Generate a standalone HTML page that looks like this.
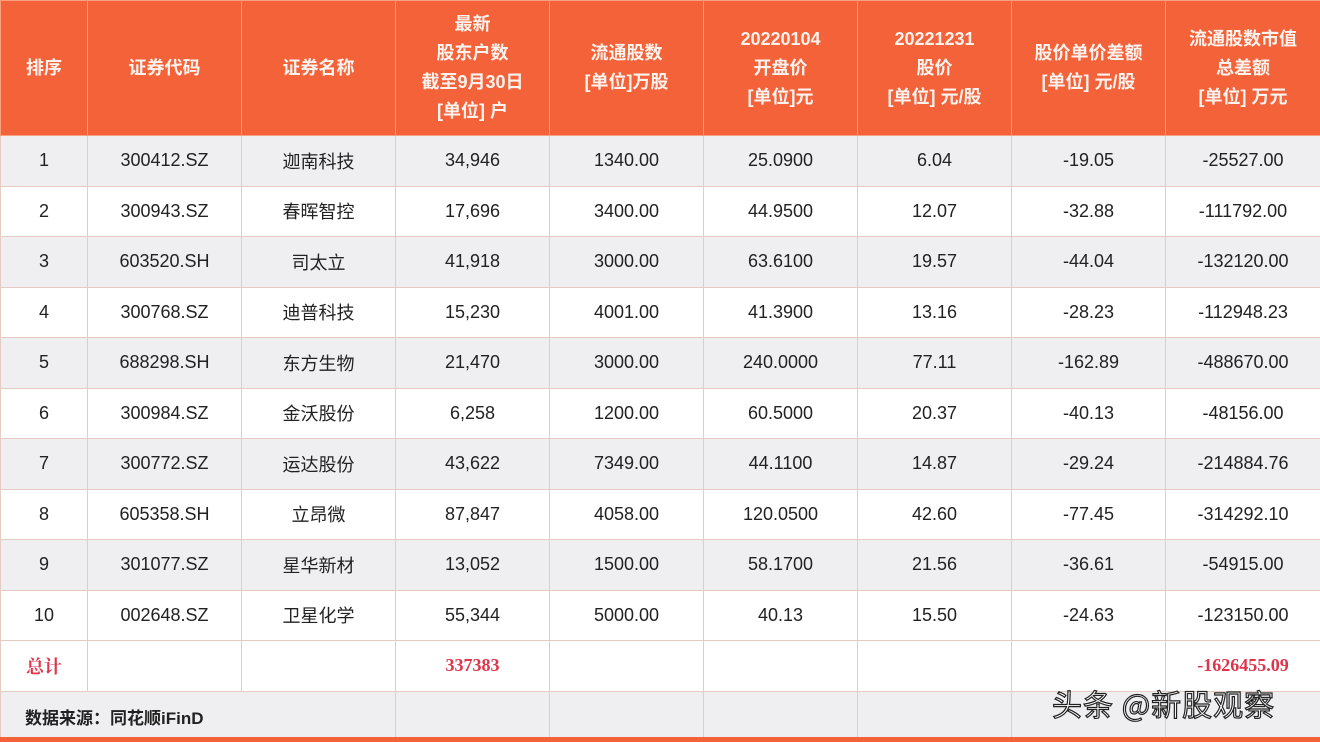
<!DOCTYPE html>
<html><head><meta charset="utf-8"><style>
body{margin:0;width:1320px;height:742px;overflow:hidden;background:#fff;font-family:"Liberation Sans","Noto Sans CJK SC",sans-serif;position:relative}
table{border-collapse:collapse;table-layout:fixed;width:1320px;position:absolute;left:0;top:0}
td,th{border:1px solid #e6cbc3;text-align:center;padding:0;font-size:18px;color:#222}
th{background:#f4623a;color:#fdf3ee;font-weight:bold;height:134px;line-height:29px;border-color:#f7a080;font-size:18px}
tr.d td{height:49.5px}
tr.g td{background:#efeff1}
.cn{font-family:"Noto Sans CJK SC",sans-serif;line-height:20px}
.red{color:#e0344a;font-family:"Liberation Serif","Noto Serif CJK SC",serif;font-weight:bold}
.src{text-align:left;padding-left:24px;font-weight:bold;font-size:17px}
.wm{position:absolute;left:1052px;top:683px;font-size:30px;line-height:40px;color:#fff;-webkit-text-stroke:1.2px #222;font-family:"Noto Sans CJK SC",sans-serif;letter-spacing:1px}
.bl{position:absolute;left:0;top:737px;width:1320px;height:5px;background:#f4623a}
</style></head><body>
<table>
<colgroup><col style="width:87px"><col style="width:154px"><col style="width:154px"><col style="width:154px"><col style="width:154px"><col style="width:154px"><col style="width:154px"><col style="width:154px"><col style="width:155px"></colgroup>
<tr><th>排序</th><th>证券代码</th><th>证券名称</th><th>最新<br>股东户数<br>截至9月30日<br>[单位] 户</th><th>流通股数<br>[单位]万股</th><th>20220104<br>开盘价<br>[单位]元</th><th>20221231<br>股价<br>[单位] 元/股</th><th>股价单价差额<br>[单位] 元/股</th><th>流通股数市值<br>总差额<br>[单位] 万元</th></tr>
<tr class="d g"><td>1</td><td>300412.SZ</td><td class="cn">迦南科技</td><td>34,946</td><td>1340.00</td><td>25.0900</td><td>6.04</td><td>-19.05</td><td>-25527.00</td></tr>
<tr class="d"><td>2</td><td>300943.SZ</td><td class="cn">春晖智控</td><td>17,696</td><td>3400.00</td><td>44.9500</td><td>12.07</td><td>-32.88</td><td>-111792.00</td></tr>
<tr class="d g"><td>3</td><td>603520.SH</td><td class="cn">司太立</td><td>41,918</td><td>3000.00</td><td>63.6100</td><td>19.57</td><td>-44.04</td><td>-132120.00</td></tr>
<tr class="d"><td>4</td><td>300768.SZ</td><td class="cn">迪普科技</td><td>15,230</td><td>4001.00</td><td>41.3900</td><td>13.16</td><td>-28.23</td><td>-112948.23</td></tr>
<tr class="d g"><td>5</td><td>688298.SH</td><td class="cn">东方生物</td><td>21,470</td><td>3000.00</td><td>240.0000</td><td>77.11</td><td>-162.89</td><td>-488670.00</td></tr>
<tr class="d"><td>6</td><td>300984.SZ</td><td class="cn">金沃股份</td><td>6,258</td><td>1200.00</td><td>60.5000</td><td>20.37</td><td>-40.13</td><td>-48156.00</td></tr>
<tr class="d g"><td>7</td><td>300772.SZ</td><td class="cn">运达股份</td><td>43,622</td><td>7349.00</td><td>44.1100</td><td>14.87</td><td>-29.24</td><td>-214884.76</td></tr>
<tr class="d"><td>8</td><td>605358.SH</td><td class="cn">立昂微</td><td>87,847</td><td>4058.00</td><td>120.0500</td><td>42.60</td><td>-77.45</td><td>-314292.10</td></tr>
<tr class="d g"><td>9</td><td>301077.SZ</td><td class="cn">星华新材</td><td>13,052</td><td>1500.00</td><td>58.1700</td><td>21.56</td><td>-36.61</td><td>-54915.00</td></tr>
<tr class="d"><td>10</td><td>002648.SZ</td><td class="cn">卫星化学</td><td>55,344</td><td>5000.00</td><td>40.13</td><td>15.50</td><td>-24.63</td><td>-123150.00</td></tr>
<tr class="d"><td class="red">总计</td><td></td><td></td><td class="red">337383</td><td></td><td></td><td></td><td></td><td class="red">-1626455.09</td></tr>
<tr class="d g"><td colspan="3" class="src">数据来源：同花顺iFinD</td><td></td><td></td><td></td><td></td><td></td><td></td></tr>
</table>
<div class="wm">头条 @新股观察</div>
<div class="bl"></div>
</body></html>
